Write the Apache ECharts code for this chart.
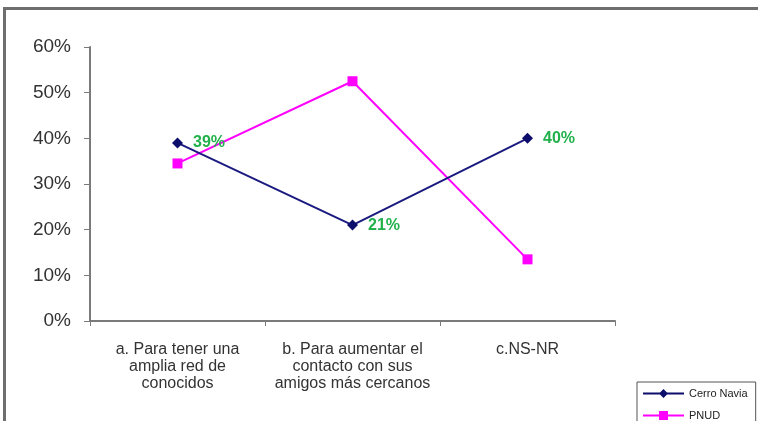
<!DOCTYPE html>
<html>
<head>
<meta charset="utf-8">
<script src="https://cdn.jsdelivr.net/npm/echarts@6/dist/echarts.min.js"></script>
<style>
  html, body { margin: 0; padding: 0; background: #fff; overflow: hidden; }
  #frame { position: absolute; left: 3px; top: 7px; width: 760px; height: 420px;
           border-left: 3px solid #6e6e6e; border-top: 3px solid #6e6e6e; }
  #chart { position: absolute; left: 0; top: 0; width: 758px; height: 421px; }
</style>
</head>
<body>
<div id="frame"></div>
<div id="chart"></div>
<script>
const categories = [
  'a. Para tener una\namplia red de\nconocidos',
  'b. Para aumentar el\ncontacto con sus\namigos más cercanos',
  'c.NS-NR'
];
const cerroNavia = [0.39, 0.21, 0.40];
const pnud = [0.345, 0.525, 0.135];

const chart = echarts.init(document.getElementById('chart'));

const option = {
  animation: false,
  textStyle: { fontFamily: 'Liberation Sans, Arial, sans-serif' },
  grid: { left: 90, right: 143, top: 47, bottom: 100 },
  legend: {
    orient: 'vertical',
    left: 637, top: 382,
    height: 60,
    padding: [6, 8, 20, 6],
    itemGap: 11,
    itemWidth: 41, itemHeight: 9,
    borderColor: '#555', borderWidth: 1,
    textStyle: { fontSize: 11, color: '#222' },
    data: [
      { name: 'Cerro Navia', icon: 'path://M0,3.5 L17,3.5 L20.5,0 L24,3.5 L41,3.5 L41,5.5 L24,5.5 L20.5,9 L17,5.5 L0,5.5 Z' },
      { name: 'PNUD', icon: 'path://M0,3.5 L16,3.5 L16,0 L25,0 L25,3.5 L41,3.5 L41,5.5 L25,5.5 L25,9 L16,9 L16,5.5 L0,5.5 Z' }
    ]
  },
  xAxis: {
    type: 'category',
    data: categories,
    boundaryGap: true,
    axisLine: { lineStyle: { color: '#7a7a7a', width: 2 } },
    axisTick: { show: true, length: 5, lineStyle: { color: '#7a7a7a' } },
    axisLabel: { fontSize: 16, color: '#333', lineHeight: 17, margin: 20, interval: 0 }
  },
  yAxis: {
    type: 'value',
    min: 0, max: 0.6, interval: 0.1,
    splitLine: { show: false },
    axisLine: { show: true, lineStyle: { color: '#7a7a7a', width: 2 } },
    axisTick: { show: true, length: 6, lineStyle: { color: '#7a7a7a' } },
    axisLabel: {
      fontSize: 19, color: '#333', margin: 19,
      formatter: v => Math.round(v * 100) + '%'
    }
  },
  series: [
    {
      name: 'Cerro Navia',
      type: 'line',
      data: cerroNavia,
      symbol: 'diamond',
      symbolSize: 11,
      color: '#0d0d6b',
      lineStyle: { width: 2, color: '#1a1a80' },
      itemStyle: { color: '#0d0d6b' },
      label: {
        show: true, position: 'right', distance: 10,
        color: '#22b04b', fontSize: 16, fontWeight: 'bold',
        formatter: p => Math.round(p.value * 100) + '%'
      },
      z: 3
    },
    {
      name: 'PNUD',
      type: 'line',
      data: pnud,
      symbol: 'rect',
      symbolSize: 10,
      color: '#ff00ff',
      lineStyle: { width: 2, color: '#ff00ff' },
      itemStyle: { color: '#ff00ff' },
      z: 2
    }
  ]
};

chart.setOption(option);
</script>
</body>
</html>
